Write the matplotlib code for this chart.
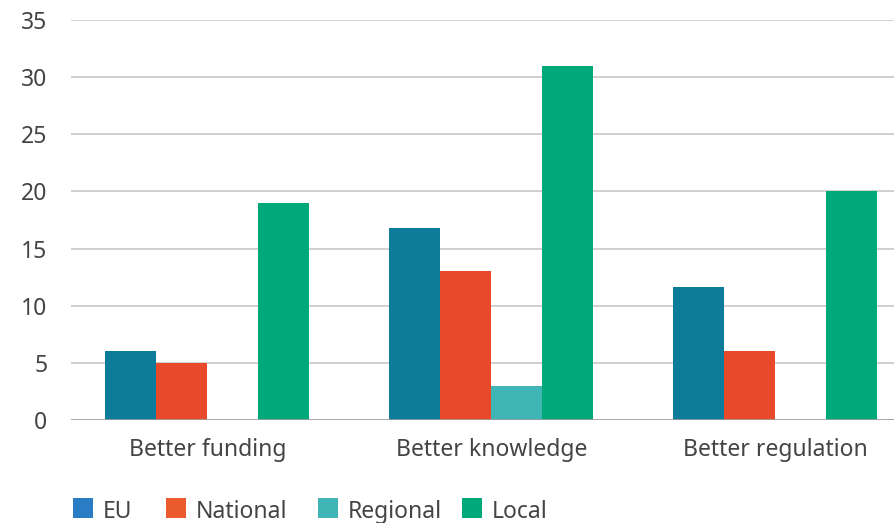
import matplotlib
matplotlib.use("Agg")
import matplotlib.pyplot as plt
from matplotlib.patches import Rectangle
import numpy as np

categories = ["Better funding", "Better knowledge", "Better regulation"]
series = ["EU", "National", "Regional", "Local"]
eu = [6.05, 16.8, 11.65]
national = [5.0, 13.05, 6.05]
regional = [0.0, 3.0, 0.0]
local = [19.0, 31.0, 20.0]
yticks = [0, 5, 10, 15, 20, 25, 30, 35]

bar_colors = ["#0f7b9b", "#e8492b", "#3fb5b5", "#00a87a"]
legend_colors = ["#2a7cc4", "#eb5a2c", "#3fb5b5", "#00a87a"]
legend_x_px = [73, 166, 318, 462]

W, H = 895, 523
plt.rcParams['font.family'] = ['Noto Sans', 'DejaVu Sans']
fig = plt.figure(figsize=(W/100, H/100), dpi=100)
ax = fig.add_axes([71/W, 103/H, 824/W, 400/H])

x = np.arange(len(categories))
w = 51/284
for i, vals in enumerate([eu, national, regional, local]):
    ax.bar(x + (i - 1.5) * w, vals, width=w, color=bar_colors[i], zorder=3, linewidth=0)

ax.set_xlim((71-207.5)/284, (895-207.5)/284)
ax.set_ylim(0, 35)
ax.set_yticks(yticks)
ax.set_xticks(x)
ax.set_xticklabels(categories)
ax.yaxis.grid(True, color="#c8c8c8", linewidth=1.2, zorder=0)
ax.axhline(0, color="#a0a0a0", linewidth=1.2, zorder=4)
for s in ax.spines.values():
    s.set_visible(False)
ax.tick_params(axis='both', length=0, labelsize=16.5, colors="#444444")
ax.tick_params(axis='x', pad=13)
ax.tick_params(axis='y', pad=17)

# legend (manual layout)
for name, col, px in zip(series, legend_colors, legend_x_px):
    fig.add_artist(Rectangle((px/W, 1 - 518/H), 20/W, 20/H, transform=fig.transFigure,
                             facecolor=col, edgecolor='none'))
    fig.text((px + 30)/W, 1 - 509/H, name, ha='left', va='center_baseline',
             fontsize=16.5, color="#444444")

fig.savefig("out.png", dpi=100)
